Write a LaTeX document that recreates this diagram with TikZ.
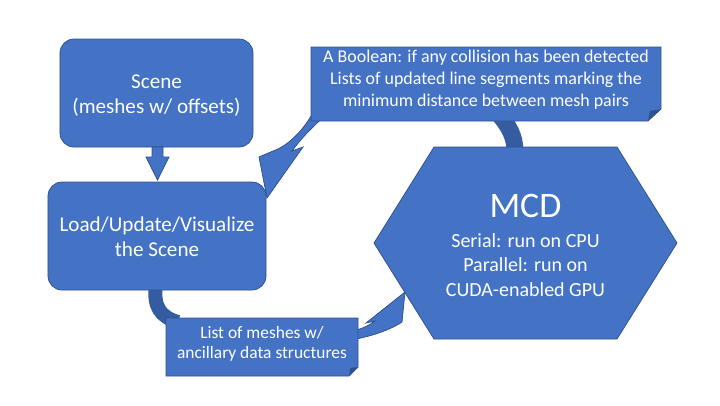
\documentclass[tikz,border=0pt]{standalone}
\usepackage{fontspec}
\setmainfont{Carlito}
\definecolor{officeblue}{RGB}{68,114,196}
\definecolor{edgeblue}{RGB}{47,82,143}
\definecolor{tubeblue}{RGB}{52,92,160}

\begin{document}
\begin{tikzpicture}[x=1bp,y=-1bp,
    box/.style={fill=officeblue,draw=edgeblue,line width=0.75bp},
    label/.style={text=white,align=center,inner sep=0pt},
    tube/.style={draw=tubeblue,line width=17bp}]
    \useasboundingbox (0,0) rectangle (720,405);
    % dark tails of the curved arrows, behind the shapes
    \draw[tube] (497,112) .. controls (509,126) and (515,136) .. (515,152);
    \draw[tube,line width=14bp] (156,285) .. controls (153,306) and (160,317) .. (178,322);
    % curved arrow: results back to the scene
    \draw[box] (311,116) .. controls (303,130) and (288,146) .. (273,151) -- (259,157) -- (267,198)
        -- (303,147) -- (292,151) .. controls (300,140) and (312,127) .. (325,116) -- cycle;
    % curved arrow: meshes into MCD
    \draw[box] (350,331) .. controls (360,330) and (368,326) .. (375,321) -- (366,323) -- (405,292)
        -- (402,322) .. controls (390,330) and (370,337) .. (350,340) -- cycle;
    % boxes
    \node[box,rounded corners=14bp,minimum width=193bp,minimum height=108bp] (scene) at (156.5,93) {};
    \node[label,font=\fontsize{21.2}{25}\selectfont] at ([yshift=-3bp]scene) {Scene\\(meshes w/ offsets)};
    \node[box,rounded corners=14bp,minimum width=218bp,minimum height=108bp] (load) at (157,236) {};
    \node[label,font=\fontsize{21.2}{25}\selectfont] at ([yshift=-1bp]load) {Load/Update/Visualize\\the Scene};
    \draw[box] (152,147) -- (163,147) -- (163,157) -- (169,157) -- (157.5,180) -- (146,157) -- (152,157) -- cycle;
    % MCD hexagon
    \draw[box] (434,147) -- (617,147) -- (677,243) -- (617,339) -- (434,339) -- (374,243) -- cycle;
    \node[label,font=\fontsize{36}{40}\selectfont] (mcd) at (525.5,206) {MCD};
    \node[label,font=\fontsize{20.1}{24.5}\selectfont] (mode) at (525.5,265) {Serial: run on CPU\\Parallel: run on\\CUDA-enabled GPU};
    % callouts with folded corner
    \draw[box] (311,47) -- (661,47) -- (661,109) -- (648,121) -- (311,121) -- cycle;
    \fill[edgeblue] (661,109) -- (648,121) -- (650,111) -- cycle;
    \node[label,font=\fontsize{18}{22}\selectfont] (out) at (486,80) {A Boolean: if any collision has been detected\\Lists of updated line segments marking the\\minimum distance between mesh pairs};
    \draw[box] (166,318) -- (358,318) -- (358,367) -- (349,376) -- (166,376) -- cycle;
    \fill[edgeblue] (358,367) -- (349,376) -- (350,368) -- cycle;
    \node[label,font=\fontsize{17.5}{20}\selectfont] (in) at (262,344) {List of meshes w/\\ancillary data structures};
\end{tikzpicture}
\end{document}
